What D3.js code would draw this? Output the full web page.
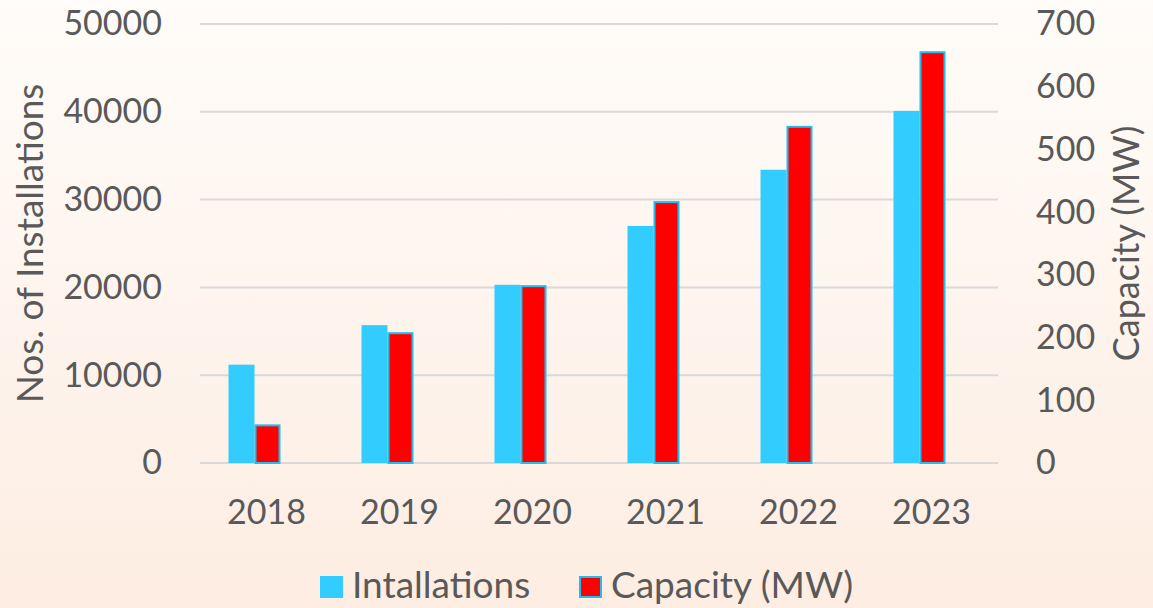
<!DOCTYPE html>
<html>
<head>
<meta charset="utf-8">
<script src="https://cdn.jsdelivr.net/npm/d3@7"></script>
<style>
  body { margin: 0; }
  svg { display: block; font-family: Lato, "Open Sans", sans-serif; }
  text { fill: #595959; }
</style>
</head>
<body>
<svg id="chart" width="1153" height="608"></svg>
<script>
// values
const years = ['2018', '2019', '2020', '2021', '2022', '2023'];
const installations = [11200, 15700, 20300, 27000, 33400, 40100];
const capacity = [60, 207, 282, 416, 536, 655];
const leftTicks = [0, 10000, 20000, 30000, 40000, 50000];
const rightTicks = [0, 100, 200, 300, 400, 500, 600, 700];

const W = 1153, H = 608;
const m = {top: 24, right: 155, bottom: 145, left: 200};
const svg = d3.select('#chart');

const defs = svg.append('defs');
const grad = defs.append('linearGradient')
  .attr('id', 'bg').attr('x1', 0).attr('y1', 0).attr('x2', 0).attr('y2', 1);
grad.append('stop').attr('offset', '0%').attr('stop-color', '#fffcf9');
grad.append('stop').attr('offset', '100%').attr('stop-color', '#fdede2');
svg.append('rect').attr('width', W).attr('height', H).attr('fill', 'url(#bg)');

const x = d3.scaleBand().domain(years).range([m.left, W - m.right]);
const yL = d3.scaleLinear().domain([0, 50000]).range([H - m.bottom, m.top]);
const yR = d3.scaleLinear().domain([0, 700]).range([H - m.bottom, m.top]);

// gridlines
svg.append('g')
  .selectAll('line')
  .data(leftTicks)
  .join('line')
  .attr('x1', m.left).attr('x2', W - m.right)
  .attr('y1', d => yL(d)).attr('y2', d => yL(d))
  .attr('stroke', '#d9d9d9').attr('stroke-width', 2);

// bar pair sits a bit left of the category label, as in the original
const barW = 26;
const cx = d => x(d) + x.bandwidth() / 2 - 12;

svg.append('g')
  .selectAll('rect')
  .data(years)
  .join('rect')
  .attr('x', d => cx(d) - barW)
  .attr('width', barW)
  .attr('y', (d, i) => yL(installations[i]))
  .attr('height', (d, i) => yL(0) - yL(installations[i]))
  .attr('fill', '#33ccff');

svg.append('g')
  .selectAll('rect')
  .data(years)
  .join('rect')
  .attr('x', d => cx(d) + 1)
  .attr('width', barW - 2)
  .attr('y', (d, i) => yR(capacity[i]))
  .attr('height', (d, i) => yR(0) - yR(capacity[i]))
  .attr('fill', '#ff0000')
  .attr('stroke', '#1fbdf0').attr('stroke-width', 2);

// axes
const fs = 34;
const axL = svg.append('g')
  .attr('transform', `translate(${m.left},0)`)
  .call(d3.axisLeft(yL).tickValues(leftTicks).tickSize(0).tickPadding(38).tickFormat(d3.format('d')));
const axR = svg.append('g')
  .attr('transform', `translate(${W - m.right},0)`)
  .call(d3.axisRight(yR).tickValues(rightTicks).tickSize(0).tickPadding(38).tickFormat(d3.format('d')));
const axB = svg.append('g')
  .attr('transform', `translate(0,${H - m.bottom})`)
  .call(d3.axisBottom(x).tickSize(0).tickPadding(37));
[axL, axR, axB].forEach(a => {
  a.attr('font-family', null).attr('font-size', null);
  a.select('.domain').remove();
  a.selectAll('text').attr('font-size', fs).attr('fill', '#595959');
});

// axis titles
const midY = (yL(0) + yL(50000)) / 2;
svg.append('text')
  .attr('transform', `translate(43,${midY}) rotate(-90)`)
  .attr('text-anchor', 'middle')
  .attr('font-size', 37)
  .text('Nos. of Installations');
svg.append('text')
  .attr('transform', `translate(1139,${midY}) rotate(-90)`)
  .attr('text-anchor', 'middle')
  .attr('font-size', 36)
  .text('Capacity (MW)');

// legend
const leg = svg.append('g').attr('transform', 'translate(0,598)');
leg.append('rect').attr('x', 320).attr('y', -22).attr('width', 23).attr('height', 22).attr('fill', '#33ccff');
leg.append('text').attr('x', 352).attr('font-size', 37).text('Intallations');
leg.append('rect').attr('x', 580).attr('y', -21).attr('width', 21).attr('height', 20)
  .attr('fill', '#ff0000').attr('stroke', '#1fbdf0').attr('stroke-width', 2);
leg.append('text').attr('x', 611).attr('font-size', 37).text('Capacity (MW)');
</script>
</body>
</html>
